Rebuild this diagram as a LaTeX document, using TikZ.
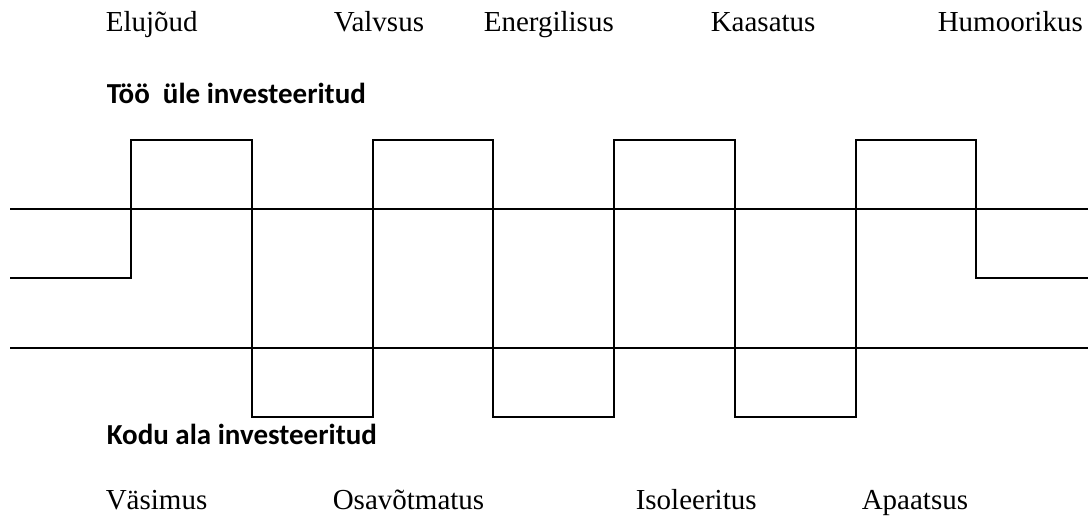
\documentclass[tikz,border=0pt]{standalone}
\usepackage{fontspec}
\setmainfont{Liberation Serif}
\newfontfamily\headfont{Carlito}
\usetikzlibrary{positioning}

\begin{document}
\begin{tikzpicture}[x=1pt,y=-1pt,line width=1.6pt,
  word/.style={anchor=base west,inner sep=0pt,font=\fontsize{29}{34}\selectfont},
  head/.style={anchor=base west,inner sep=0pt,font=\headfont\bfseries\fontsize{29}{34}\selectfont}]
  \useasboundingbox (0,0) rectangle (1088,518);

  \node[word] (elujoud) at (105,32) {Elujõud};
  \node[word] (valvsus) at (333,32) {Valvsus};
  \node[word] (energ) at (483,32) {Energilisus};
  \node[word] (kaasatus) at (710,32) {Kaasatus};
  \node[word] (humoor) at (937,32) {Humoorikus};

  \node[head] (too) at (106,104) {Töö\ \ üle investeeritud};
  \node[head] (kodu) at (106,445) {Kodu ala investeeritud};

  \node[word] (vasimus) at (105,510) {Väsimus};
  \node[word] (osavot) at (332,510) {Osavõtmatus};
  \node[word] (isol) at (635,510) {Isoleeritus};
  \node[word] (apaat) at (861,510) {Apaatsus};

  \coordinate (upL) at (10,209);
  \coordinate (upR) at (1088,209);
  \coordinate (loL) at (10,348);
  \coordinate (loR) at (1088,348);
  \draw (upL) -- (upR);
  \draw (loL) -- (loR);

  \draw (10,278) -- (131,278) -- (131,140) -- (252,140) -- (252,417) -- (373,417)
    -- (373,140) -- (493,140) -- (493,417) -- (614,417) -- (614,140) -- (735,140)
    -- (735,417) -- (856,417) -- (856,140) -- (976,140) -- (976,278) -- (1088,278);

\end{tikzpicture}
\end{document}
